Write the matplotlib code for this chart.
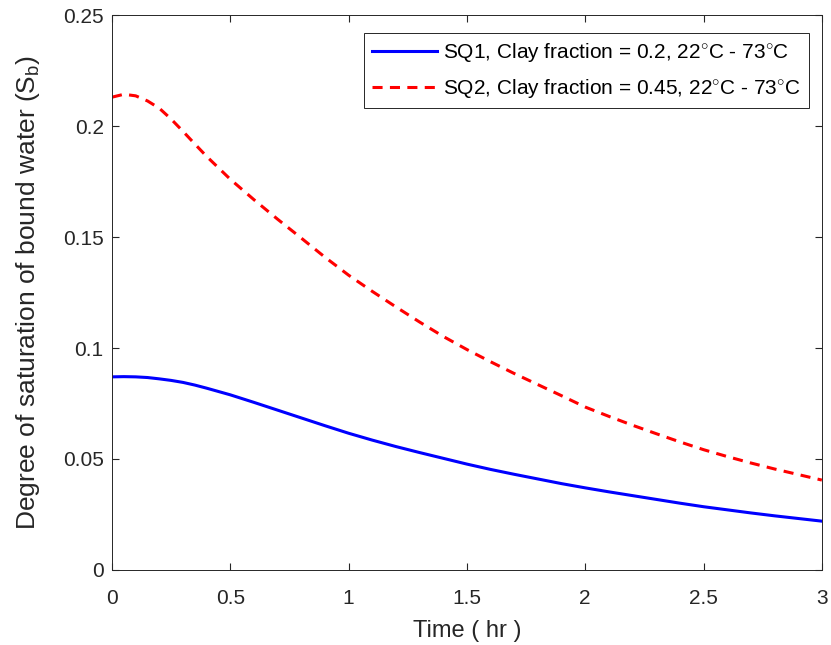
import numpy as np
import matplotlib
matplotlib.use('Agg')
import matplotlib.pyplot as plt

plt.rcParams['font.family'] = ['Liberation Sans', 'DejaVu Sans']
plt.rcParams['mathtext.fontset'] = 'custom'
plt.rcParams['mathtext.rm'] = 'Liberation Sans'
plt.rcParams['mathtext.it'] = 'Liberation Sans:italic'

# time (hr)
t = [0.0, 0.05, 0.1, 0.15, 0.2, 0.25, 0.3, 0.35, 0.4, 0.5, 0.6, 0.7,
     0.8, 0.9, 1.0, 1.1, 1.2, 1.3, 1.4, 1.5, 1.6, 1.7, 1.8, 1.9, 2.0,
     2.1, 2.2, 2.3, 2.4, 2.5, 2.6, 2.7, 2.8, 2.9, 3.0]

# SQ1, clay fraction 0.2
sq1 = [0.0870, 0.0871, 0.0870, 0.0867, 0.0861, 0.0854, 0.0845, 0.0833,
       0.0819, 0.0789, 0.0755, 0.0720, 0.0685, 0.0650, 0.0616, 0.0585,
       0.0556, 0.0529, 0.0503, 0.0477, 0.0453, 0.0431, 0.0410, 0.0389,
       0.0370, 0.0352, 0.0335, 0.0318, 0.0301, 0.0285, 0.0271, 0.0257,
       0.0244, 0.0232, 0.0220]

# SQ2, clay fraction 0.45
sq2 = [0.2130, 0.2143, 0.2136, 0.2113, 0.2080, 0.2031, 0.1976, 0.1919,
       0.1863, 0.1760, 0.1668, 0.1580, 0.1495, 0.1409, 0.1328, 0.1255,
       0.1185, 0.1117, 0.1052, 0.0993, 0.0938, 0.0885, 0.0835, 0.0785,
       0.0734, 0.0692, 0.0652, 0.0614, 0.0577, 0.0542, 0.0511, 0.0482,
       0.0455, 0.0430, 0.0405]

xticks = [0, 0.5, 1, 1.5, 2, 2.5, 3]
yticks = [0, 0.05, 0.1, 0.15, 0.2, 0.25]
ytick_labels = ['0', '0.05', '0.1', '0.15', '0.2', '0.25']
xtick_labels = ['0', '0.5', '1', '1.5', '2', '2.5', '3']

fig = plt.figure(figsize=(8.31, 6.45), dpi=100)
ax = fig.add_axes([0.1348, 0.1163, 0.8542, 0.8604])

ax.plot(t, sq1, color='#0000ff', lw=2.2,
        label='SQ1, Clay fraction = 0.2, 22$^{\\circ}$C - 73$^{\\circ}$C')
ax.plot(t, sq2, color='#ff0000', lw=2.2, dashes=(3.3, 2.4),
        label='SQ2, Clay fraction = 0.45, 22$^{\\circ}$C - 73$^{\\circ}$C')

ax.set_xlim(0, 3)
ax.set_ylim(0, 0.25)
ax.set_xticks(xticks)
ax.set_xticklabels(xtick_labels)
ax.set_yticks(yticks)
ax.set_yticklabels(ytick_labels)
ax.tick_params(direction='in', length=5, width=0.8, colors='#262626',
               labelsize=15, top=True, right=True, pad=6)
ax.tick_params(axis='x', pad=14)
for s in ax.spines.values():
    s.set_color('#262626')
    s.set_linewidth(0.7)

ax.set_xlabel('Time ( hr )', fontsize=17, color='#262626', labelpad=8)
ax.set_ylabel('Degree of saturation of bound water (S$_\\mathrm{b}$)',
              fontsize=19, color='#262626', labelpad=15)

leg = ax.legend(loc='upper right', bbox_to_anchor=(0.9817, 0.9676),
                borderaxespad=0, fontsize=15, handlelength=3.1,
                fancybox=False, framealpha=1, edgecolor='#262626',
                handletextpad=0.3, labelspacing=0.6, borderpad=0.4)
leg.get_frame().set_linewidth(0.7)

fig.savefig('out.png', dpi=100)
